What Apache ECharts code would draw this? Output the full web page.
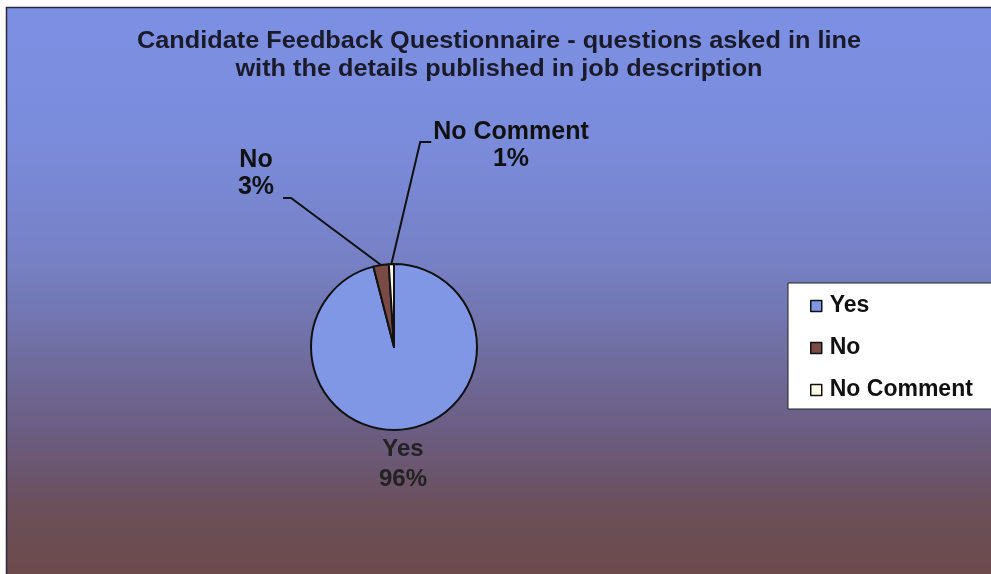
<!DOCTYPE html>
<html>
<head>
<meta charset="utf-8">
<title>Candidate Feedback Questionnaire</title>
<script src="https://cdn.jsdelivr.net/npm/echarts@6/dist/echarts.min.js"></script>
<style>
  html, body { margin: 0; padding: 0; background: #ffffff; }
  #chart { width: 991px; height: 574px; }
</style>
</head>
<body>
<div id="chart"></div>
<script>
// Survey answers and their share of responses (percent)
const categories = ['Yes', 'No', 'No Comment'];
const shares = [96, 3, 1];
const titleLines = [
  'Candidate Feedback Questionnaire - questions asked in line',
  'with the details published in job description'
];

// Slice fills, in category order
const palette = ['#8097e6', '#7a4b45', '#fbfbe6'];

const chart = echarts.init(document.getElementById('chart'), null, { renderer: 'canvas' });

const FONT = 'Liberation Sans, Arial, sans-serif';

// Where each outside label sits (label box centre x, top y) and how its leader attaches
const labelPlacement = {
  'Yes':        { x: 403, y: 434 },
  'No':         { x: 256, y: 147, lineSide: 'right' },
  'No Comment': { x: 511, y: 119, lineSide: 'left' }
};

const option = {
  backgroundColor: '#ffffff',
  animation: false,
  graphic: [{
    // framed plot area with a blue-to-brown wash
    type: 'rect',
    z: -10,
    silent: true,
    shape: { x: 6.5, y: 7.5, width: 990, height: 570 },
    style: {
      fill: {
        type: 'linear', x: 0, y: 0, x2: 0, y2: 1,
        colorStops: [
          { offset: 0.00, color: '#7c90e4' },
          { offset: 0.25, color: '#7a8bda' },
          { offset: 0.45, color: '#7680c4' },
          { offset: 0.60, color: '#706fa2' },
          { offset: 0.75, color: '#6b5c80' },
          { offset: 0.88, color: '#6b4f5a' },
          { offset: 1.00, color: '#6d4a4a' }
        ]
      },
      stroke: '#2a2a3a',
      lineWidth: 1.5
    }
  }, {
    // two-line chart heading, slightly widened
    type: 'text',
    z: 10,
    silent: true,
    x: 499,
    y: 56,
    scaleX: 1.1,
    style: {
      text: titleLines.join('\n'),
      font: 'bold 23px ' + FONT,
      fill: '#1a1a28',
      align: 'center',
      verticalAlign: 'middle',
      lineHeight: 28
    }
  }],
  legend: {
    orient: 'vertical',
    left: 788,
    top: 283,
    data: categories,
    icon: 'rect',
    itemWidth: 11,
    itemHeight: 11,
    itemGap: 18,
    padding: [11, 40, 7, 22],
    backgroundColor: '#ffffff',
    borderColor: '#222222',
    borderWidth: 1,
    borderRadius: 0,
    itemStyle: { borderColor: '#111111', borderWidth: 1.5 },
    textStyle: {
      fontFamily: FONT,
      fontSize: 23,
      fontWeight: 'bold',
      color: '#111111',
      lineHeight: 24,
      padding: [0, 0, 0, 3]
    }
  },
  series: [{
    type: 'pie',
    center: [394, 347],
    radius: 83,
    startAngle: 90,
    clockwise: true,
    avoidLabelOverlap: false,
    itemStyle: { borderColor: '#111111', borderWidth: 2 },
    label: {
      show: true,
      position: 'outside',
      fontFamily: FONT,
      fontSize: 25,
      fontWeight: 'bold',
      color: '#111111',
      lineHeight: 27,
      align: 'center',
      formatter: function (p) { return p.name + '\n' + Math.round(p.percent) + '%'; }
    },
    labelLine: {
      show: true,
      length: 20,
      length2: 10,
      lineStyle: { color: '#111111', width: 2 }
    },
    labelLayout: function (params) {
      const name = categories[params.dataIndex];
      const place = labelPlacement[name];
      const w = params.labelRect.width;
      const h = params.labelRect.height;
      const out = { x: place.x, y: place.y, align: 'center', verticalAlign: 'top' };
      const pts = params.labelLinePoints;
      if (pts && place.lineSide) {
        const anchor = pts[0];
        if (place.lineSide === 'right') {
          const ly = place.y + h - 3;
          const ex = place.x + w / 2 + 9;
          out.labelLinePoints = [anchor, [ex + 8, ly], [ex, ly]];
        } else {
          const ly = place.y + 23;
          const ex = place.x - w / 2 - 2;
          out.labelLinePoints = [anchor, [ex - 11, ly], [ex, ly]];
        }
      }
      return out;
    },
    data: categories.map(function (name, i) {
      const item = { name: name, value: shares[i], itemStyle: { color: palette[i] } };
      if (name === 'Yes') {
        item.label = { color: '#222222', fontSize: 24, lineHeight: 30 };
        item.labelLine = { show: false };
      }
      return item;
    })
  }]
};

chart.setOption(option);
</script>
</body>
</html>
